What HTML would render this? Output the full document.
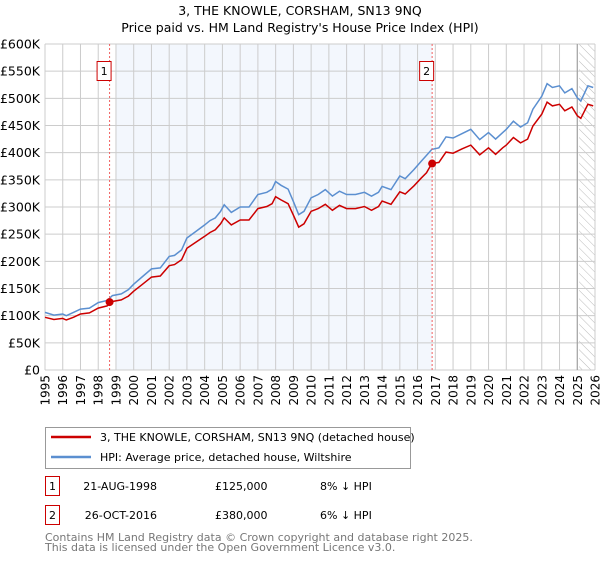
<!DOCTYPE html>
<html><head><meta charset="utf-8"><style>
body{margin:0;background:#fff;font-family:"Liberation Sans","DejaVu Sans",sans-serif}
svg text{font-family:"DejaVu Sans","Liberation Sans",sans-serif}
</style></head><body>
<svg id="chart" width="600" height="560" xmlns="http://www.w3.org/2000/svg">
<defs><pattern id="hatch" width="6" height="6" patternUnits="userSpaceOnUse" patternTransform="rotate(-45)"><line x1="0" y1="0" x2="0" y2="6" stroke="#bbb" stroke-width="1"/></pattern></defs>
<text x="300" y="15" text-anchor="middle" font-size="12.5">3, THE KNOWLE, CORSHAM, SN13 9NQ</text>
<text x="300" y="32" text-anchor="middle" font-size="12.5">Price paid vs. HM Land Registry's House Price Index (HPI)</text>
<g id="plot"></g>
<rect x="45.5" y="427.5" width="365" height="41" fill="#fff" stroke="#999"/>
<line x1="51" y1="437" x2="91" y2="437" stroke="#cc0000" stroke-width="2.5"/>
<text x="100" y="441" font-size="11">3, THE KNOWLE, CORSHAM, SN13 9NQ (detached house)</text>
<line x1="51" y1="457" x2="91" y2="457" stroke="#5b8fd0" stroke-width="2.5"/>
<text x="100" y="461" font-size="11">HPI: Average price, detached house, Wiltshire</text>
<g font-size="11">
<rect x="45.5" y="476.5" width="14" height="19" fill="#fff" stroke="#cc0000"/><text x="52.5" y="490" text-anchor="middle">1</text>
<text x="157" y="490" text-anchor="end">21-AUG-1998</text><text x="215" y="490">£125,000</text><text x="320" y="490">8% ↓ HPI</text></g>
<g font-size="11">
<rect x="45.5" y="505.5" width="14" height="19" fill="#fff" stroke="#cc0000"/><text x="52.5" y="519" text-anchor="middle">2</text>
<text x="157" y="519" text-anchor="end">26-OCT-2016</text><text x="215" y="519">£380,000</text><text x="320" y="519">6% ↓ HPI</text></g>
<text x="45" y="541" font-size="11" fill="#777">Contains HM Land Registry data © Crown copyright and database right 2025.</text>
<text x="45" y="551" font-size="11" fill="#777">This data is licensed under the Open Government Licence v3.0.</text>
</svg>
<script>
const years=[1995.0,1995.5,1996.0,1996.2,1996.6,1997.0,1997.5,1998.0,1998.5,1998.8,1999.3,1999.7,2000.0,2000.5,2001.0,2001.5,2002.0,2002.3,2002.7,2003.0,2003.5,2004.0,2004.3,2004.6,2004.9,2005.1,2005.5,2006.0,2006.5,2007.0,2007.5,2007.8,2008.0,2008.3,2008.7,2009.0,2009.3,2009.6,2010.0,2010.4,2010.8,2011.2,2011.6,2012.0,2012.5,2013.0,2013.4,2013.8,2014.0,2014.5,2015.0,2015.3,2015.8,2016.2,2016.5,2016.8,2017.2,2017.6,2018.0,2018.5,2019.0,2019.5,2020.0,2020.4,2020.8,2021.0,2021.4,2021.8,2022.2,2022.5,2023.0,2023.3,2023.6,2024.0,2024.3,2024.7,2025.0,2025.2,2025.6,2025.9];
const hpiValues=[106,101,103,100,106,112,114,124,128,137,140,148,158,172,186,188,209,211,221,243,255,267,275,280,292,304,290,300,300,323,327,333,347,340,333,310,286,292,317,323,332,320,329,323,323,327,320,327,338,332,357,352,369,384,395,406,409,429,427,435,443,424,437,425,437,443,458,447,455,480,504,527,520,523,510,518,501,495,523,520];
const propertyValues=[97,93,95,92,97,103,105,114,118,126,129,136,145,158,171,173,192,194,203,224,235,246,253,258,269,280,267,276,276,297,301,306,319,313,306,285,263,269,292,297,305,294,303,297,297,301,294,301,311,305,328,324,339,353,363,380,382,401,399,407,414,396,409,397,409,414,428,418,425,449,471,493,486,489,477,484,468,463,489,486];
const sales=[[1998.64,125],[2016.82,380]];
const saleLabels=["1","2"];
const yTicks=[0,50,100,150,200,250,300,350,400,450,500,550,600];
const yTickLabels=["£0","£50K","£100K","£150K","£200K","£250K","£300K","£350K","£400K","£450K","£500K","£550K","£600K"];
const xTicks=[1995,1996,1997,1998,1999,2000,2001,2002,2003,2004,2005,2006,2007,2008,2009,2010,2011,2012,2013,2014,2015,2016,2017,2018,2019,2020,2021,2022,2023,2024,2025,2026];

const X0=45,X1=595,Y0=370,Y1=44;
const xs=y=>X0+(y-1995)/(2026-1995)*(X1-X0);
const ys=v=>Y0-v/600*(Y0-Y1);
const NS='http://www.w3.org/2000/svg';
const g=document.getElementById('plot');
function mk(t,a,p){const e=document.createElementNS(NS,t);for(const k in a)e.setAttribute(k,a[k]);(p||g).appendChild(e);return e;}
let r=mk('rect',{x:X0,y:Y1,width:X1-X0,height:Y0-Y1,fill:'#fff'});


r=mk('rect',{x:xs(1999.0),y:Y1,width:xs(2016.82)-xs(1999.0),height:Y0-Y1,fill:'#eef3fc',opacity:0.7});


r=mk('rect',{x:xs(2025.1),y:Y1,width:X1-xs(2025.1),height:Y0-Y1,fill:'url(#hatch)'});


xTicks.forEach(t=>{const x=xs(t);
 const l=mk('line',{x1:x,y1:Y1,x2:x,y2:Y0,stroke:'#ccc','stroke-width':1});
 
 
 const tx=mk('text',{x:0,y:0,'font-size':12,'text-anchor':'end',transform:`translate(${x+4.5},375) rotate(-90)`});
 tx.textContent=t;
 
 
});
yTicks.forEach((v,i)=>{const y=ys(v);
 const l=mk('line',{x1:X0,y1:y,x2:X1,y2:y,stroke:'#ccc','stroke-width':1});
 
 
 const tx=mk('text',{x:40,y:y+4.5,'font-size':12.5,'text-anchor':'end'});
 tx.textContent=yTickLabels[i];
 
 
});
let vl=mk('line',{x1:xs(2025.0),y1:Y1,x2:xs(2025.0),y2:Y0,stroke:'#999','stroke-width':1});


function path(vals,col,name){const d=years.map((y,i)=>(i?'L':'M')+xs(y).toFixed(1)+','+ys(vals[i]).toFixed(1)).join('');
 const p=mk('path',{d:d,fill:'none',stroke:col,'stroke-width':1.5});
 
 }
path(hpiValues,'#5b8fd0','hpi-line');
path(propertyValues,'#cc0000','property-line');
sales.forEach((s,i)=>{const x=xs(s[0]);
 const l=mk('line',{x1:x,y1:Y1,x2:x,y2:Y0,stroke:'#f06060','stroke-width':1,'stroke-dasharray':'2,2'});
 
 
 const c=mk('circle',{cx:x,cy:ys(s[1]),r:4,fill:'#cc0000'});
 
 
 const b=mk('rect',{x:x-12.5,y:61.5,width:14,height:19,fill:'#fff',stroke:'#cc0000'});
 
 
 const t=mk('text',{x:x-5.5,y:75,'font-size':11,'text-anchor':'middle'});
 t.textContent=saleLabels[i];
 
 
});
</script>
</body></html>
